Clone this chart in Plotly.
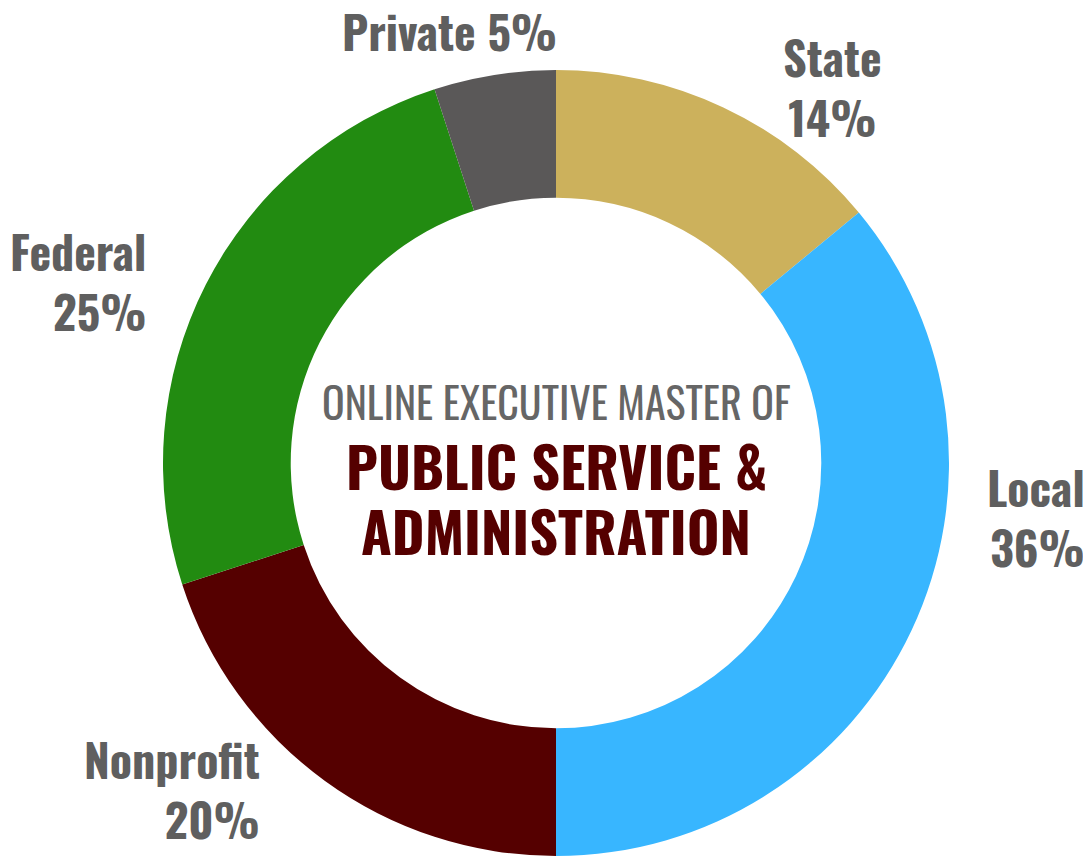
import plotly.graph_objects as go

categories = ["State", "Local", "Nonprofit", "Federal", "Private"]
shares = [14, 36, 20, 25, 5]
slice_colors = ["#CCB15C", "#38B6FF", "#550000", "#228B11", "#5A5858"]

center_lines = ["ONLINE EXECUTIVE MASTER OF", "PUBLIC SERVICE &", "ADMINISTRATION"]

# page body has an 8px margin; figure sized to fit the window
OFF = 8
W, H = 1091 - OFF, 856 - OFF
FONT = "Oswald, 'Roboto Condensed', 'Liberation Sans Narrow', 'DejaVu Sans Condensed', sans-serif"
LABEL_COLOR = "#5f5f5f"


def px(x):
    return (x - OFF) / W


def py(y):
    return 1 - (y - OFF) / H


# pie geometry (page pixels)
cx, cy, R = 556, 463, 393

fig = go.Figure(go.Pie(
    labels=categories,
    values=shares,
    marker=dict(colors=slice_colors, line=dict(width=0)),
    hole=0.675,
    sort=False,
    direction="clockwise",
    rotation=0,
    textinfo="none",
    hoverinfo="label+percent",
    domain=dict(x=[max(0, px(cx - R)), min(1, px(cx + R))],
                y=[max(0, py(cy + R)), min(1, py(cy - R))]),
    showlegend=False,
))

# label placement (page pixel anchor x, anchor side, block-center y, one line?)
label_pos = {
    "Private": (449, "center", 30, True),
    "State": (832, "center", 86, False),
    "Local": (1087, "right", 516, False),
    "Federal": (148, "right", 280, False),
    "Nonprofit": (262, "right", 788, False),
}

annotations = []
for cat, val in zip(categories, shares):
    x, anchor, y, single = label_pos[cat]
    text = f"<b>{cat} {val}%</b>" if single else f"<b>{cat}<br>{val}%</b>"
    annotations.append(dict(
        x=px(x), y=py(y), xref="paper", yref="paper",
        xanchor=anchor, yanchor="middle", align=anchor, showarrow=False,
        text=text,
        font=dict(family=FONT, size=46, color=LABEL_COLOR),
    ))

center_styles = [
    (401, 42, "#666666", False),
    (464, 56, "#550000", True),
    (529, 56, "#550000", True),
]
for line, (y, size, color, bold) in zip(center_lines, center_styles):
    annotations.append(dict(
        x=px(cx), y=py(y), xref="paper", yref="paper",
        xanchor="center", yanchor="middle", showarrow=False,
        text=f"<b>{line}</b>" if bold else line,
        font=dict(family=FONT, size=size, color=color),
    ))

fig.update_layout(
    width=W, height=H,
    margin=dict(l=0, r=0, t=0, b=0),
    paper_bgcolor="white",
    plot_bgcolor="white",
    annotations=annotations,
)

fig.write_html("out.html")
